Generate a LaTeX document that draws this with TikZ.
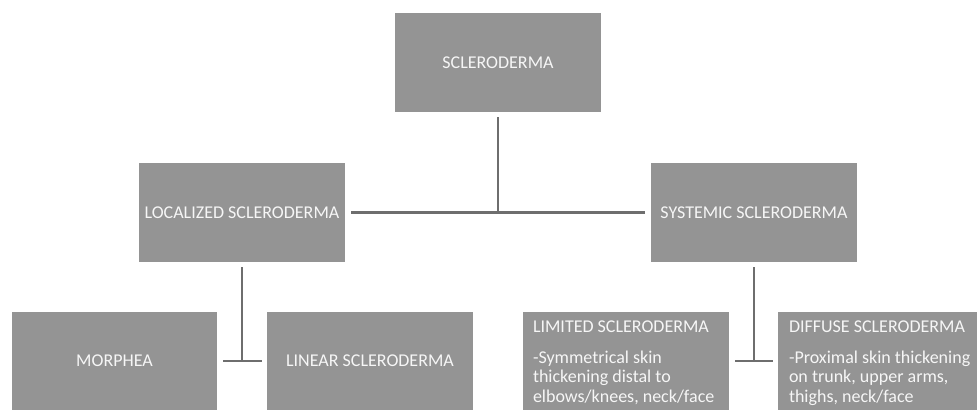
\documentclass[tikz,border=0pt]{standalone}
\usepackage{fontspec}
\setmainfont{Carlito}
\definecolor{boxgray}{HTML}{949494}
\definecolor{boxtext}{HTML}{F6F6F6}
\definecolor{linkgray}{HTML}{6E6E6E}
\begin{document}
\begin{tikzpicture}[x=1pt,y=-1pt,
  box/.style={fill=boxgray,draw=none,inner sep=0pt,minimum width=206pt,minimum height=99pt,
    text=boxtext,font=\fontsize{18}{19.5}\selectfont},
  boxlabel/.style={inner sep=0pt,anchor=north west,align=left,text=boxtext,
    font=\fontsize{18}{19.5}\selectfont},
  link/.style={draw=linkgray,line width=2.5pt}]
\useasboundingbox (0,0) rectangle (977,410);

% top level
\node[box] (top) at (498,62.5) {SCLERODERMA};

% second level
\node[box] (loc) at (242,212.5) {LOCALIZED SCLERODERMA};
\node[box] (sys) at (754,212.5) {SYSTEMIC SCLERODERMA};

% third level, localized branch
\node[box,minimum width=205pt,minimum height=98pt] (morph) at (114.5,361) {MORPHEA};
\node[box,minimum width=206pt,minimum height=98pt] (lin) at (370,361) {LINEAR SCLERODERMA};

% third level, systemic branch
\node[box,minimum width=206pt,minimum height=98pt] (lim) at (626,361) {};
\node[box,minimum width=199pt,minimum height=98pt] (dif) at (877.5,361) {};
\node[boxlabel] (limtxt) at ([xshift=10pt,yshift=-9pt]lim.north west)
  {LIMITED SCLERODERMA\\[11pt]-Symmetrical skin\\thickening distal to\\elbows/knees, neck/face};
\node[boxlabel] (diftxt) at ([xshift=11pt,yshift=-9pt]dif.north west)
  {DIFFUSE SCLERODERMA\\[11pt]-Proximal skin thickening\\on trunk, upper arms,\\thighs, neck/face};

% junction points
\coordinate (j1) at (top.south |- loc.east);

% connectors
\draw[link] ([xshift=6pt]loc.east) -- ([xshift=-6pt]sys.west);
\draw[link] ([yshift=-5pt]top.south) -- (j1);
\draw[link] ([yshift=-5pt]loc.south) -- (loc.south |- morph.east);
\draw[link] ([xshift=6pt]morph.east) -- ([xshift=-5pt]lin.west);
\draw[link] ([yshift=-5pt]sys.south) -- (sys.south |- lim.east);
\draw[link] ([xshift=6pt]lim.east) -- ([xshift=-5pt]dif.west);
\end{tikzpicture}
\end{document}
